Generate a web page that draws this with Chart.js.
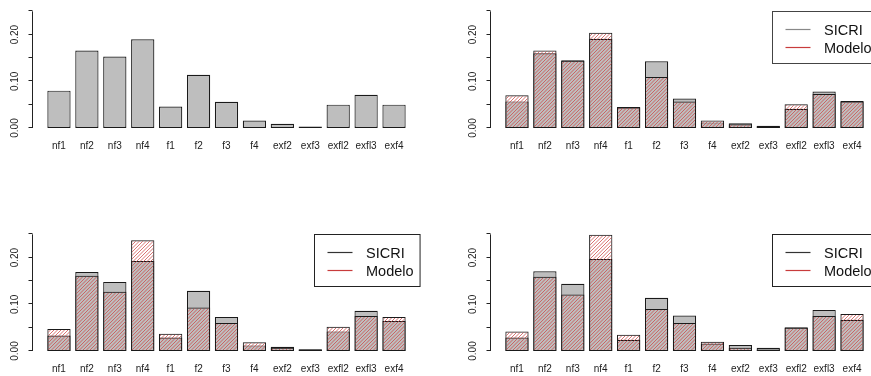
<!DOCTYPE html>
<html>
<head>
<meta charset="utf-8">
<title>SICRI vs Modelo</title>
<script src="https://cdn.jsdelivr.net/npm/chart.js@4.4.1/dist/chart.umd.min.js"></script>
<style>
    html, body { margin: 0; padding: 0; background: #fff; }
    body { width: 871px; height: 376px; overflow: hidden; position: relative; }
    .panel { position: absolute; width: 440px; height: 160px; }
</style>
</head>
<body>
<div class="panel" style="left:0px;top:0px"><canvas id="chart1"></canvas></div>
<div class="panel" style="left:458px;top:0px"><canvas id="chart2"></canvas></div>
<div class="panel" style="left:0px;top:223px"><canvas id="chart3"></canvas></div>
<div class="panel" style="left:458px;top:223px"><canvas id="chart4"></canvas></div>

<script>
// =====================
// Data
// =====================
const categories = ['nf1', 'nf2', 'nf3', 'nf4', 'f1', 'f2', 'f3', 'f4', 'exf2', 'exf3', 'exfl2', 'exfl3', 'exf4'];

const sicri1 = [0.080, 0.166, 0.153, 0.190, 0.046, 0.114, 0.056, 0.016, 0.009, 0.003, 0.050, 0.071, 0.050];

const sicri2  = [0.057, 0.160, 0.145, 0.191, 0.044, 0.143, 0.063, 0.012, 0.010, 0.005, 0.041, 0.078, 0.058];
const modelo2 = [0.070, 0.166, 0.144, 0.204, 0.045, 0.109, 0.057, 0.016, 0.008, 0.004, 0.051, 0.073, 0.057];

const sicri3  = [0.033, 0.169, 0.148, 0.193, 0.029, 0.129, 0.073, 0.012, 0.009, 0.004, 0.042, 0.086, 0.064];
const modelo3 = [0.047, 0.161, 0.127, 0.237, 0.037, 0.093, 0.060, 0.019, 0.007, 0.003, 0.052, 0.075, 0.073];

const sicri4  = [0.029, 0.171, 0.144, 0.197, 0.024, 0.114, 0.076, 0.016, 0.013, 0.007, 0.051, 0.088, 0.067];
const modelo4 = [0.042, 0.159, 0.121, 0.249, 0.035, 0.090, 0.060, 0.020, 0.007, 0.003, 0.050, 0.075, 0.079];

const yTicks = [0, 0.05, 0.10, 0.15, 0.20, 0.25];
const yTickLabels = ['0.00', '', '0.10', '', '0.20', ''];

const seriesNames = ['SICRI', 'Modelo'];

// =====================
// Barplot geometry (width 1, space 0.2, like R's barplot)
// =====================
const barSpace = 0.2;
const xMin = -0.416;
const xMax = 16.216;

function barX(i) {
    return barSpace + 0.5 + i * (1 + barSpace);
}

function toPoints(values) {
    return values.map((v, i) => ({ x: barX(i), y: v }));
}

// =====================
// Hatch fill for the model bars
// =====================
function makeHatch() {
    const size = 7;
    const c = document.createElement('canvas');
    c.width = size;
    c.height = size;
    const g = c.getContext('2d');
    g.strokeStyle = 'rgba(205, 70, 70, 0.75)';
    g.lineWidth = 1;
    g.beginPath();
    for (let k = 0; k <= 2 * size; k += size / 2) {
        g.moveTo(k - size - 1, size + 1);
        g.lineTo(k + 1, -1);
    }
    g.stroke();
    return g.createPattern(c, 'repeat');
}

// =====================
// Plugins: R style axes and legend
// =====================
const rAxes = {
    id: 'rAxes',
    afterDraw(chart) {
        const ctx = chart.ctx;
        const area = chart.chartArea;
        const y = chart.scales.y;
        const x = chart.scales.x;
        ctx.save();
        ctx.strokeStyle = '#222';
        ctx.lineWidth = 1;
        ctx.fillStyle = '#222';

        // y axis line + ticks
        const ax = Math.round(area.left) - 0.5;
        ctx.beginPath();
        ctx.moveTo(ax, y.getPixelForValue(yTicks[0]));
        ctx.lineTo(ax, y.getPixelForValue(yTicks[yTicks.length - 1]));
        yTicks.forEach(t => {
            const py = Math.round(y.getPixelForValue(t)) - 0.5;
            ctx.moveTo(ax, py);
            ctx.lineTo(ax - 4, py);
        });
        ctx.stroke();

        ctx.font = '10px "Liberation Sans", Arial, sans-serif';
        ctx.textAlign = 'center';
        ctx.textBaseline = 'middle';
        yTicks.forEach((t, i) => {
            if (!yTickLabels[i]) return;
            ctx.save();
            ctx.translate(area.left - 18, y.getPixelForValue(t));
            ctx.rotate(-Math.PI / 2);
            ctx.fillText(yTickLabels[i], 0, 0);
            ctx.restore();
        });

        // category names under the bars
        categories.forEach((name, i) => {
            ctx.fillText(name, x.getPixelForValue(barX(i)), area.bottom + 18.5);
        });
        ctx.restore();
    }
};

const rLegend = {
    id: 'rLegend',
    afterDraw(chart, args, opts) {
        if (!opts.show) return;
        const ctx = chart.ctx;
        const area = chart.chartArea;
        ctx.save();
        ctx.font = '14.5px "Liberation Sans", Arial, sans-serif';
        const textW = Math.max(...opts.items.map(it => ctx.measureText(it.text).width));
        const w = 52 + textW + 6;
        const h = 52;
        const left = Math.round(area.right - w) + 0.5;
        const top = Math.round(area.top) + 0.5;

        ctx.fillStyle = '#fff';
        ctx.fillRect(left, top, w, h);
        ctx.strokeStyle = opts.boxColor;
        ctx.lineWidth = 1;
        ctx.strokeRect(left, top, w, h);

        ctx.textAlign = 'left';
        ctx.textBaseline = 'middle';
        opts.items.forEach((it, i) => {
            const ly = Math.round(top + 17.5 + i * 18) + 0.5;
            ctx.strokeStyle = it.color;
            ctx.lineWidth = 1.2;
            ctx.beginPath();
            ctx.moveTo(left + 13, ly);
            ctx.lineTo(left + 38, ly);
            ctx.stroke();
            ctx.fillStyle = '#111';
            ctx.fillText(it.text, left + 51.5, ly + 1);
        });
        ctx.restore();
    }
};

// =====================
// Build one panel
// =====================
function makePanel(canvasId, sicri, modelo, sicriLineColor) {
    const datasets = [];
    if (modelo) {
        datasets.push({
            label: seriesNames[1],
            data: toPoints(modelo),
            backgroundColor: makeHatch(),
            borderColor: '#1a1a1a',
            borderWidth: 1,
            borderSkipped: false,
            grouped: false,
            order: 1
        });
    }
    datasets.push({
        label: seriesNames[0],
        data: toPoints(sicri),
        backgroundColor: '#bebebe',
        borderColor: '#1a1a1a',
        borderWidth: 1.2,
        borderSkipped: false,
        grouped: false,
        order: 2
    });

    return new Chart(document.getElementById(canvasId), {
        type: 'bar',
        data: { datasets: datasets },
        options: {
            responsive: true,
            maintainAspectRatio: false,
            animation: false,
            categoryPercentage: 1,
            barPercentage: 1 / (1 + barSpace),
            layout: { padding: { left: 33, right: 20, top: 11.3, bottom: 32 } },
            scales: {
                x: { type: 'linear', min: xMin, max: xMax, offset: false, display: false },
                y: { min: 0, max: 0.25, display: false }
            },
            plugins: {
                legend: { display: false },
                tooltip: { enabled: false },
                rLegend: {
                    show: !!modelo,
                    boxColor: sicriLineColor === '#888' ? '#444' : '#222',
                    items: [
                        { text: seriesNames[0], color: sicriLineColor },
                        { text: seriesNames[1], color: '#c83c3c' }
                    ]
                }
            }
        },
        plugins: [rAxes, rLegend]
    });
}

makePanel('chart1', sicri1, null, '#333');
makePanel('chart2', sicri2, modelo2, '#888');
makePanel('chart3', sicri3, modelo3, '#333');
makePanel('chart4', sicri4, modelo4, '#333');
</script>
</body>
</html>
